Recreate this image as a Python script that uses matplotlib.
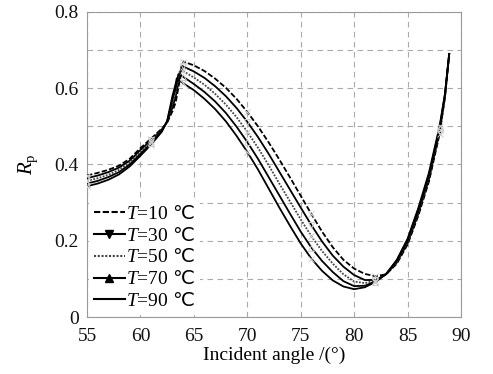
import matplotlib
matplotlib.use('Agg')
import matplotlib.pyplot as plt
from matplotlib.lines import Line2D
from matplotlib.ticker import MultipleLocator

plt.rcParams['font.family'] = ['Liberation Serif', 'DejaVu Serif']
plt.rcParams['mathtext.fontset'] = 'custom'
plt.rcParams['mathtext.rm'] = 'Liberation Serif'
plt.rcParams['mathtext.it'] = 'Liberation Serif:italic'
plt.rcParams['mathtext.sf'] = 'Noto Sans CJK SC'

# Values
labels = ['10', '30', '50', '70', '90']

angle_rise = [55, 56, 57, 58, 59, 60, 61, 62, 62.5, 63, 63.3]
rise_t10 = [0.371, 0.378, 0.386, 0.397, 0.415, 0.443, 0.468, 0.494, 0.510, 0.540, 0.563]
rise_t30 = [0.364, 0.371, 0.380, 0.392, 0.410, 0.438, 0.464, 0.492, 0.511, 0.550, 0.578]
rise_t50 = [0.357, 0.364, 0.373, 0.386, 0.405, 0.433, 0.460, 0.490, 0.512, 0.560, 0.590]
rise_t70 = [0.350, 0.357, 0.367, 0.380, 0.400, 0.428, 0.456, 0.488, 0.513, 0.570, 0.601]
rise_t90 = [0.343, 0.350, 0.360, 0.374, 0.395, 0.423, 0.452, 0.486, 0.514, 0.580, 0.612]

peak_angle = [64.0, 63.85, 63.7, 63.55, 63.4]
peak_rp = [0.670, 0.659, 0.648, 0.637, 0.626]

angle_fall = [64, 65, 66, 67, 68, 69, 70, 71, 72, 73, 74, 75, 76, 77, 78, 79,
              80, 81, 82, 83, 84, 85, 86, 87, 88, 88.5, 88.9]
fall_t10 = [0.670, 0.660, 0.645, 0.625, 0.601, 0.572, 0.538, 0.500, 0.458, 0.413,
            0.366, 0.318, 0.270, 0.224, 0.183, 0.150, 0.127, 0.113, 0.107, 0.112,
            0.140, 0.190, 0.265, 0.355, 0.480, 0.575, 0.690]
fall_t30 = [0.657, 0.644, 0.627, 0.605, 0.579, 0.548, 0.512, 0.472, 0.428, 0.381,
            0.334, 0.287, 0.241, 0.198, 0.161, 0.132, 0.110, 0.097, 0.097, 0.112,
            0.143, 0.194, 0.270, 0.361, 0.485, 0.578, 0.690]
fall_t50 = [0.645, 0.628, 0.609, 0.585, 0.557, 0.524, 0.486, 0.444, 0.398, 0.350,
            0.303, 0.256, 0.212, 0.173, 0.140, 0.112, 0.093, 0.089, 0.095, 0.113,
            0.145, 0.198, 0.275, 0.366, 0.490, 0.580, 0.690]
fall_t70 = [0.630, 0.611, 0.590, 0.565, 0.535, 0.499, 0.459, 0.415, 0.367, 0.319,
            0.271, 0.224, 0.182, 0.147, 0.118, 0.094, 0.081, 0.082, 0.093, 0.113,
            0.148, 0.201, 0.280, 0.372, 0.495, 0.583, 0.690]
fall_t90 = [0.613, 0.595, 0.572, 0.545, 0.513, 0.475, 0.433, 0.387, 0.337, 0.287,
            0.239, 0.193, 0.153, 0.121, 0.096, 0.080, 0.073, 0.078, 0.092, 0.113,
            0.150, 0.205, 0.285, 0.378, 0.500, 0.585, 0.690]

rises = [rise_t10, rise_t30, rise_t50, rise_t70, rise_t90]
falls = [fall_t10, fall_t30, fall_t50, fall_t70, fall_t90]

styles = [(0, (3, 1.2)), '-', (0, (1, 0.8)), '-', '-']
markers = [None, 'v', None, '^', None]
colors = ['black', 'black', '#444444', 'black', 'black']

fig = plt.figure(figsize=(4.93, 3.74), dpi=100)
ax = fig.add_axes([0.1765, 0.1524, 0.7585, 0.8156])

for i in range(5):
    xs = angle_rise + [peak_angle[i]] + angle_fall
    ys = rises[i] + [peak_rp[i]] + falls[i]
    ax.plot(xs, ys, color=colors[i], linestyle=styles[i], lw=1.3, zorder=3)
    # faint markers on the curves
    ax.plot(xs[::6], ys[::6], linestyle='none', marker=markers[i] or 'x',
            ms=5, mfc='none', mec='#cccccc', mew=0.7, zorder=4)

ax.set_xlim(55, 90)
ax.set_ylim(0, 0.8)
ax.xaxis.set_major_locator(MultipleLocator(5))
ax.yaxis.set_minor_locator(MultipleLocator(0.1))
ax.set_yticks([0, 0.2, 0.4, 0.6, 0.8])
ax.set_yticklabels(['0', '0.2', '0.4', '0.6', '0.8'])
ax.tick_params(which='both', length=0, labelsize=14, colors='#111111')
ax.tick_params(axis='x', pad=8)
ax.tick_params(axis='y', pad=6)
ax.grid(True, which='both', linestyle=(0, (5, 4)), color='#aaaaaa', lw=0.8)
ax.set_axisbelow(True)
for s in ax.spines.values():
    s.set_color('#9a9a9a')
    s.set_linewidth(0.8)

ax.set_xlabel('Incident angle /(°)', fontsize=14, labelpad=1)
ax.set_ylabel(r'$R_\mathrm{p}$', fontsize=15, labelpad=10)

handles = []
for i in range(5):
    handles.append(Line2D([], [], color=colors[i], linestyle=styles[i], lw=1.5,
                          marker=markers[i], ms=6, mfc='black', mec='black'))
leg = ax.legend(handles, ['$T$=' + t + r' $\mathsf{℃}$' for t in labels],
                loc='lower left', bbox_to_anchor=(0.0, 0.0), fontsize=14,
                frameon=True, framealpha=1, facecolor='white', edgecolor='none',
                handlelength=1.6, handletextpad=0.05, labelspacing=0.2,
                borderpad=0.25, borderaxespad=0.1, fancybox=False)
leg.set_zorder(5)

fig.savefig('out.png', dpi=100)
